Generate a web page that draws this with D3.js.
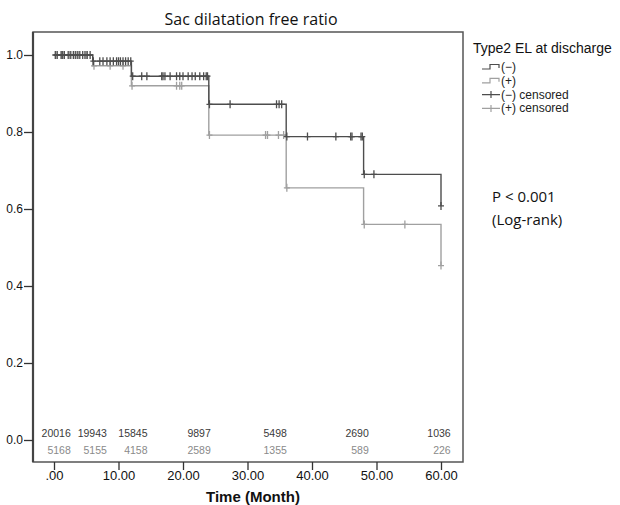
<!DOCTYPE html>
<html lang="en">
<head>
<meta charset="UTF-8">
<title>Sac dilatation free ratio</title>
<style>
  body { margin: 0; background: #fff; }
  svg { display: block; }
  .tick text { fill: #111; }
</style>
</head>
<body>
<div id="graph"></div>
<script src="https://cdn.jsdelivr.net/npm/d3@7/dist/d3.min.js"></script>
<script>
// step times (month) and survival for each group
var stepTimes = [0, 6, 12, 24, 36, 48, 60];
var survNeg = [1.0, 0.984, 0.945, 0.872, 0.788, 0.690, 0.608];
var survPos = [1.0, 0.972, 0.920, 0.792, 0.655, 0.560, 0.453];

// censored times (month)
var censorNeg = [0.2, 0.5, 1.1, 1.35, 1.6, 2.2, 2.6, 3.0, 3.3, 3.6, 4.0, 4.45, 4.8, 5.15, 5.6,
  6.1, 7.1, 7.6, 8.2, 8.7, 9.2, 9.7, 10.0, 10.3, 10.7, 11.1, 11.5, 11.9,
  12.2, 13.6, 14.4, 16.7, 16.9, 17.2, 18.0, 19.0, 19.5, 20.0, 20.8, 21.4, 21.9, 22.6, 23.2, 23.6, 23.8,
  24.1, 27.3, 34.5, 34.9, 35.3,
  36.1, 39.3, 43.7, 46.0, 46.2, 47.6, 47.8,
  48.1, 49.6, 60];
var censorPos = [0.3, 1.2, 2.4, 3.8, 5.0,
  6.2, 8.7, 10.7,
  12.1, 19.0, 19.5, 19.8,
  24.1, 32.8, 33.1, 34.8, 35.6,
  36.1, 48.1, 54.4, 60];

// numbers at risk
var riskAt = [2.6, 8.2, 14.5, 24.3, 36.1, 48.8, 61.5];
var riskNeg = [20016, 19943, 15845, 9897, 5498, 2690, 1036];
var riskPos = [5168, 5155, 4158, 2589, 1355, 589, 226];

var xTicks = [0, 10, 20, 30, 40, 50, 60];
var yTicks = [0, 0.2, 0.4, 0.6, 0.8, 1.0];

var width = 620, height = 505;
var frame = { left: 33, top: 32, right: 463, bottom: 462 };
var colNeg = "#4d4d4d", colPos = "#a0a0a0";

var svg = d3.select("#graph").append("svg")
    .attr("width", width).attr("height", height);

var x = d3.scaleLinear().domain([0, 60]).range([54, 441]);
var y = d3.scaleLinear().domain([0, 1]).range([440, 55]);

// title
svg.append("text")
    .attr("x", 251).attr("y", 25)
    .attr("text-anchor", "middle")
    .style("font-family", "'Open Sans', sans-serif")
    .style("font-size", "16px")
    .style("fill", "#111")
    .text("Sac dilatation free ratio");

// frame
svg.append("rect")
    .attr("x", frame.left).attr("y", frame.top)
    .attr("width", frame.right - frame.left)
    .attr("height", frame.bottom - frame.top)
    .attr("fill", "none").attr("stroke", "#555").attr("stroke-width", 1.5);

// axes
var xAxis = svg.append("g")
    .attr("transform", "translate(0," + frame.bottom + ")")
    .call(d3.axisBottom(x).tickValues(xTicks).tickSize(8).tickPadding(1)
        .tickFormat(function(d) { return d === 0 ? ".00" : d.toFixed(2); }));
xAxis.select(".domain").remove();
xAxis.selectAll("line").attr("stroke", "#333").attr("stroke-width", 1.3);
xAxis.selectAll("text")
    .style("font-family", "'Liberation Sans', Arial, sans-serif")
    .style("font-size", "13px");

var yAxis = svg.append("g")
    .attr("transform", "translate(" + frame.left + ",0)")
    .call(d3.axisLeft(y).tickValues(yTicks).tickSize(9).tickPadding(1)
        .tickFormat(d3.format(".1f")));
yAxis.select(".domain").attr("stroke", "#444").attr("stroke-width", 2.2)
    .attr("d", "M0," + frame.top + "V" + frame.bottom);
yAxis.selectAll("line").attr("stroke", "#333").attr("stroke-width", 1.3);
yAxis.selectAll("text")
    .style("font-family", "'Liberation Sans', Arial, sans-serif")
    .style("font-size", "12px");

// x axis title
svg.append("text")
    .attr("x", 253).attr("y", 502)
    .attr("text-anchor", "middle")
    .style("font-family", "'Liberation Sans', Arial, sans-serif")
    .style("font-size", "15px").style("font-weight", "bold")
    .style("fill", "#111")
    .text("Time (Month)");

function survAt(vals, t) {
    var i = d3.bisectRight(stepTimes, t) - 1;
    return vals[Math.max(0, i)];
}

function stepPath(vals) {
    var p = d3.path();
    p.moveTo(x(stepTimes[0]), y(vals[0]));
    for (var i = 1; i < stepTimes.length; i++) {
        p.lineTo(x(stepTimes[i]), y(vals[i - 1]));
        p.lineTo(x(stepTimes[i]), y(vals[i]));
        if (i < stepTimes.length - 1) p.lineTo(x(stepTimes[i]), y(vals[i]));
    }
    return p.toString();
}

var groups = [
    { vals: survPos, cens: censorPos, col: colPos },
    { vals: survNeg, cens: censorNeg, col: colNeg }
];

groups.forEach(function(g) {
    svg.append("path")
        .attr("d", stepPath(g.vals))
        .attr("fill", "none")
        .attr("stroke", g.col).attr("stroke-width", 1.4);

    var marks = svg.append("g").selectAll("path")
        .data(g.cens).enter().append("path")
        .attr("d", function(t) {
            var cx = x(t), cy = y(survAt(g.vals, t));
            return "M" + (cx - 3) + "," + cy + "H" + (cx + 3) +
                   "M" + cx + "," + (cy - 4) + "V" + (cy + 4);
        })
        .attr("stroke", g.col).attr("stroke-width", 1.3).attr("fill", "none");
});

// numbers at risk
[[riskNeg, "#3a3a3a", 437], [riskPos, "#8a8a8a", 454]].forEach(function(r) {
    svg.append("g").selectAll("text")
        .data(r[0]).enter().append("text")
        .attr("x", function(d, i) { return x(riskAt[i]); })
        .attr("y", r[2])
        .attr("text-anchor", "end")
        .style("font-family", "'Liberation Sans', Arial, sans-serif")
        .style("font-size", "10.5px")
        .style("fill", r[1])
        .text(function(d) { return d; });
});

// legend
var lg = svg.append("g").attr("transform", "translate(473,0)");
lg.append("text")
    .attr("x", 0).attr("y", 53)
    .style("font-family", "'Liberation Sans', Arial, sans-serif")
    .style("font-size", "14px").style("fill", "#111")
    .text("Type2 EL at discharge");

var legendItems = [
    { label: "(\u2212)", col: colNeg, kind: "step" },
    { label: "(+)", col: colPos, kind: "step" },
    { label: "(\u2212) censored", col: colNeg, kind: "cens" },
    { label: "(+) censored", col: colPos, kind: "cens" }
];
legendItems.forEach(function(it, i) {
    var cy = 67 + i * 13.8;
    var sym = it.kind === "step"
        ? "M9," + (cy + 2) + "H17V" + (cy - 2.5) + "H26V" + (cy + 1)
        : "M9," + cy + "H27M18," + (cy - 3.5) + "V" + (cy + 3.5);
    lg.append("path").attr("d", sym)
        .attr("fill", "none").attr("stroke", it.col).attr("stroke-width", 1.2);
    lg.append("text")
        .attr("x", 28).attr("y", cy + 4)
        .style("font-family", "'Liberation Sans', Arial, sans-serif")
        .style("font-size", "12px").style("fill", "#222")
        .text(it.label);
});

// log-rank annotation
svg.append("text")
    .attr("x", 492).attr("y", 202)
    .style("font-family", "'Open Sans', sans-serif")
    .style("font-size", "15px").style("fill", "#111")
    .text("P < 0.001");
svg.append("text")
    .attr("x", 492).attr("y", 225)
    .style("font-family", "'Open Sans', sans-serif")
    .style("font-size", "15px").style("fill", "#111")
    .text("(Log-rank)");
</script>
</body>
</html>
